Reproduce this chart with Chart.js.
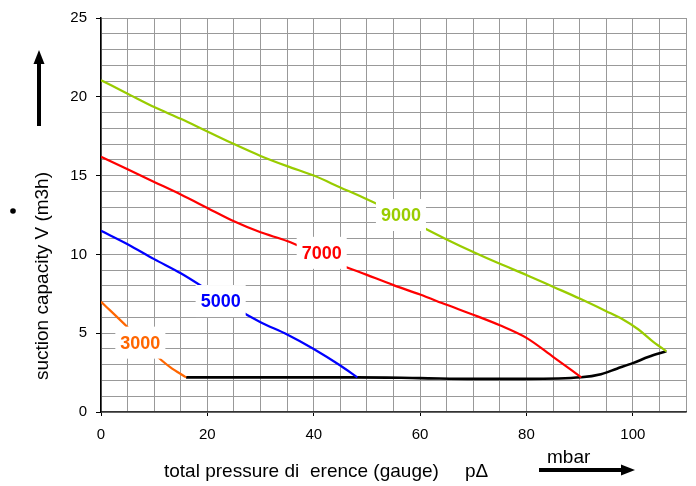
<!DOCTYPE html>
<html>
<head>
<meta charset="utf-8">
<script src="https://cdn.jsdelivr.net/npm/chart.js@4"></script>
<style>
  html, body { margin: 0; padding: 0; background: #fff; }
</style>
</head>
<body>
<canvas id="chart" width="696" height="486"></canvas>
<script>
// pressure difference (mbar) / suction capacity (m3/h)
const p3000 = [0, 5, 10, 13, 16];
const q3000 = [7.0, 5.38, 3.7, 2.85, 2.2];
const p5000 = [0, 5, 10, 15, 20, 25, 30, 35, 40, 45, 48.2];
const q5000 = [11.5, 10.65, 9.7, 8.8, 7.75, 6.65, 5.7, 4.92, 4.0, 2.95, 2.2];
const p7000 = [0, 5, 10, 15, 20, 25, 30, 35, 40, 45, 50, 55, 60, 65, 70, 75, 80, 85, 90.3];
const q7000 = [16.2, 15.4, 14.6, 13.8, 12.95, 12.1, 11.4, 10.85, 10.1, 9.35, 8.7, 8.05, 7.45, 6.8, 6.17, 5.5, 4.7, 3.5, 2.2];
const p9000 = [0, 5, 10, 15, 20, 25, 30, 35, 40, 45, 50, 55, 60, 65, 70, 75, 80, 85, 90, 95, 98, 101, 103.5, 106.3];
const q9000 = [21.05, 20.2, 19.35, 18.6, 17.8, 17.0, 16.25, 15.6, 15.0, 14.25, 13.5, 12.7, 11.8, 10.95, 10.15, 9.4, 8.7, 7.95, 7.2, 6.4, 5.9, 5.25, 4.55, 3.85];
const pLimit = [16, 30, 48, 60, 70, 80, 90.3, 94, 97, 100, 103, 106.3];
const qLimit = [2.2, 2.2, 2.2, 2.15, 2.1, 2.1, 2.2, 2.4, 2.75, 3.1, 3.5, 3.85];

// speed labels sitting on the curves
const curveNames = ['3000', '5000', '7000', '9000'];
const curveColors = ['#ff6600', '#0000ff', '#ff0000', '#99cc00'];
const labelX = [7.4, 22.5, 41.5, 56.4];
const labelY = [4.4, 7.04, 10.1, 12.5];

const xTicks = [0, 20, 40, 60, 80, 100];
const yTicks = [0, 5, 10, 15, 20, 25];

const FONT = '"Liberation Sans", Arial, sans-serif';

function toPoints(xs, ys) {
  return xs.map((x, i) => ({ x: x, y: ys[i] }));
}

function curve(xs, ys, color, width) {
  return {
    data: toPoints(xs, ys),
    borderColor: color,
    borderWidth: width,
    pointRadius: 0,
    fill: false,
    cubicInterpolationMode: 'monotone'
  };
}

// Labels, arrows and axis titles drawn on top of the plot
const decorations = {
  id: 'decorations',
  afterDatasetsDraw(chart) {
    const ctx = chart.ctx;
    const xs = chart.scales.x;
    const ys = chart.scales.y;
    ctx.save();

    // curve labels with white boxes
    ctx.font = 'bold 18px ' + FONT;
    ctx.textAlign = 'center';
    ctx.textBaseline = 'middle';
    curveNames.forEach((name, i) => {
      const px = xs.getPixelForValue(labelX[i]);
      const py = ys.getPixelForValue(labelY[i]);
      const w = ctx.measureText(name).width + 10;
      ctx.fillStyle = '#fff';
      ctx.fillRect(px - w / 2, py - 16, w, 32);
      ctx.fillStyle = curveColors[i];
      ctx.fillText(name, px, py + 1);
    });
    ctx.restore();
  },
  afterDraw(chart) {
    const ctx = chart.ctx;
    ctx.save();
    ctx.fillStyle = '#000';
    ctx.strokeStyle = '#000';

    // vertical arrow
    ctx.lineWidth = 4;
    ctx.beginPath();
    ctx.moveTo(39, 126);
    ctx.lineTo(39, 62);
    ctx.stroke();
    ctx.beginPath();
    ctx.moveTo(39, 50);
    ctx.lineTo(33.5, 64);
    ctx.lineTo(44.5, 64);
    ctx.closePath();
    ctx.fill();

    // horizontal arrow
    ctx.beginPath();
    ctx.moveTo(539, 470);
    ctx.lineTo(623, 470);
    ctx.stroke();
    ctx.beginPath();
    ctx.moveTo(635, 470);
    ctx.lineTo(621, 464.5);
    ctx.lineTo(621, 475.5);
    ctx.closePath();
    ctx.fill();

    // x title
    ctx.font = '19px ' + FONT;
    ctx.textAlign = 'left';
    ctx.textBaseline = 'alphabetic';
    ctx.fillText('total pressure di', 164, 477);
    ctx.fillText('erence (gauge)', 310, 477);
    ctx.fillText('p\u0394', 465, 477);
    ctx.fillText('mbar', 547, 463);

    // y title
    ctx.save();
    ctx.translate(48, 276);
    ctx.rotate(-Math.PI / 2);
    ctx.textAlign = 'center';
    ctx.fillText('suction capacity V (m3h)', 0, 0);
    ctx.restore();

    // dot over V
    ctx.beginPath();
    ctx.arc(13, 211, 2.8, 0, Math.PI * 2);
    ctx.fill();

    ctx.restore();
  }
};

new Chart(document.getElementById('chart'), {
  type: 'line',
  data: {
    datasets: [
      curve(p9000, q9000, curveColors[3], 2.2),
      curve(p7000, q7000, curveColors[2], 2.2),
      curve(p5000, q5000, curveColors[1], 2.2),
      curve(p3000, q3000, curveColors[0], 2.2),
      curve(pLimit, qLimit, '#000', 2.6)
    ]
  },
  options: {
    responsive: false,
    animation: false,
    layout: { padding: { top: 12, right: 8, left: 0, bottom: 0 } },
    plugins: {
      legend: { display: false },
      tooltip: { enabled: false }
    },
    scales: {
      x: {
        type: 'linear',
        min: 0,
        max: 110,
        afterBuildTicks: (s) => {
          const t = [];
          for (let v = 0; v <= 110; v += 5) t.push({ value: v });
          s.ticks = t;
        },
        afterFit: (s) => { s.height = 74; },
        ticks: {
          autoSkip: false,
          maxRotation: 0,
          padding: 10,
          color: '#000',
          font: { family: FONT, size: 15 },
          callback: (v) => (xTicks.includes(v) ? v : '')
        },
        grid: {
          color: '#999',
          lineWidth: 1,
          tickLength: 4,
          tickColor: (c) => (c.tick && xTicks.includes(c.tick.value) ? '#000' : 'rgba(0,0,0,0)')
        },
        border: { color: '#333', width: 1.5 }
      },
      y: {
        min: 0,
        max: 25,
        afterBuildTicks: (s) => {
          const t = [];
          for (let v = 0; v <= 25; v += 1) t.push({ value: v });
          s.ticks = t;
        },
        afterFit: (s) => { s.width = 101; },
        ticks: {
          autoSkip: false,
          padding: 9,
          color: '#000',
          font: { family: FONT, size: 15 },
          callback: (v) => (yTicks.includes(v) ? v : '')
        },
        grid: {
          color: '#999',
          lineWidth: 1,
          tickLength: 5,
          tickColor: (c) => (c.tick && yTicks.includes(c.tick.value) ? '#000' : 'rgba(0,0,0,0)')
        },
        border: { color: '#000', width: 1.5 }
      }
    }
  },
  plugins: [decorations]
});
</script>
</body>
</html>
